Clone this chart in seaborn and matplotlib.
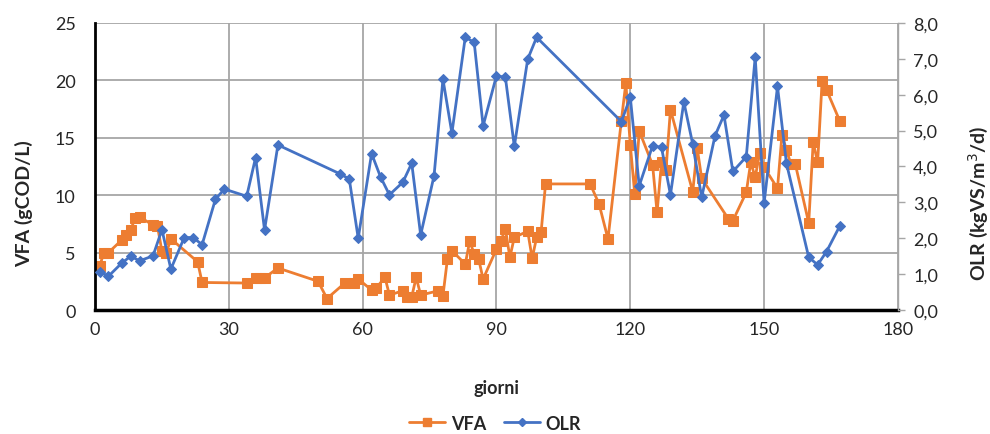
import matplotlib
matplotlib.use("Agg")
import matplotlib.pyplot as plt
import seaborn as sns
import pandas as pd
from matplotlib.ticker import FuncFormatter
from matplotlib.lines import Line2D

# ---- data ----
vfa_days = [1, 2, 3, 6, 7, 8, 9, 10, 13, 14, 15, 16, 17, 23, 24, 34, 36, 37, 38, 41,
            50, 52, 56, 58, 59, 62, 63, 65, 66, 69, 70, 71, 72, 73, 77, 78, 79, 80,
            83, 84, 85, 86, 87, 90, 91, 92, 93, 94, 97, 98, 99, 100, 101, 111, 113,
            115, 118, 119, 120, 121, 122, 125, 126, 127, 128, 129, 134, 135, 136,
            142, 143, 146, 147, 148, 149, 150, 153, 154, 155, 156, 157, 160, 161,
            162, 163, 164, 167]
vfa_vals = [3.8, 5.0, 5.0, 6.1, 6.5, 7.0, 8.0, 8.1, 7.4, 7.3, 5.1, 5.0, 6.2, 4.2, 2.4,
            2.35, 2.8, 2.8, 2.8, 3.66, 2.5, 1.0, 2.35, 2.35, 2.7, 1.74, 1.9, 2.85, 1.3,
            1.68, 1.16, 1.16, 2.85, 1.3, 1.68, 1.25, 4.44, 5.17, 4.0, 6.0, 4.88, 4.44,
            2.7, 5.31, 6.04, 7.06, 4.59, 6.33, 6.86, 4.5, 6.33, 6.77, 10.98, 10.98,
            9.23, 6.18, 16.5, 19.77, 14.37, 10.1, 15.6, 12.63, 8.5, 12.86, 12.2, 17.45,
            10.3, 14.1, 11.47, 7.93, 7.78, 10.25, 12.86, 11.56, 13.65, 12.43, 10.6,
            15.24, 13.96, 12.7, 12.7, 7.58, 14.6, 12.86, 19.92, 19.16, 16.43]

olr_days = [1, 3, 6, 8, 10, 13, 15, 17, 20, 22, 24, 27, 29, 34, 36, 38, 41, 55, 57, 59,
            62, 64, 66, 69, 71, 73, 76, 78, 80, 83, 85, 87, 90, 92, 94, 97, 99, 118,
            120, 122, 125, 127, 129, 132, 134, 136, 139, 141, 143, 146, 148, 150, 153,
            155, 160, 162, 164, 167]
olr_vals = [1.07, 0.94, 1.31, 1.5, 1.37, 1.51, 2.24, 1.14, 2.02, 2.02, 1.82, 3.09, 3.37,
            3.17, 4.25, 2.23, 4.6, 3.79, 3.65, 2.0, 4.36, 3.71, 3.21, 3.56, 4.09, 2.09,
            3.74, 6.43, 4.93, 7.6, 7.46, 5.13, 6.53, 6.48, 4.56, 6.99, 7.6, 5.25, 5.93,
            3.46, 4.58, 4.53, 3.21, 5.8, 4.62, 3.14, 4.86, 5.43, 3.86, 4.27, 7.05, 2.98,
            6.23, 4.09, 1.47, 1.26, 1.63, 2.35]

x_ticks = [0, 30, 60, 90, 120, 150, 180]
vfa_ticks = [0, 5, 10, 15, 20, 25]
olr_ticks = [0, 1, 2, 3, 4, 5, 6, 7, 8]

ORANGE = "#ED7D31"
BLUE = "#4472C4"
TXT = "#262626"

sns.set_theme(style="white")
plt.rcParams["font.family"] = ["Lato", "DejaVu Sans"]

fig = plt.figure(figsize=(9.9, 4.35), dpi=100)
ax = fig.add_axes([0.096, 0.285, 0.811, 0.66])
ax2 = ax.twinx()

df_v = pd.DataFrame({"giorni": vfa_days, "VFA": vfa_vals})
df_o = pd.DataFrame({"giorni": olr_days, "OLR": olr_vals})

sns.lineplot(data=df_v, x="giorni", y="VFA", ax=ax, color=ORANGE, marker="s",
             markersize=7, markeredgecolor=ORANGE, linewidth=2.0, estimator=None,
             sort=True, legend=False)
sns.lineplot(data=df_o, x="giorni", y="OLR", ax=ax2, color=BLUE, marker="D",
             markersize=5.5, markeredgecolor=BLUE, linewidth=2.0, estimator=None,
             sort=True, legend=False)

ax.set_xlim(0, 180)
ax.set_ylim(0, 25)
ax2.set_ylim(0, 8)
ax.set_xticks(x_ticks)
ax.set_yticks(vfa_ticks)
ax2.set_yticks(olr_ticks)
ax2.yaxis.set_major_formatter(FuncFormatter(lambda v, p: f"{v:.1f}".replace(".", ",")))

ax.grid(True, color="#A6A6A6", linewidth=1.3)
ax.set_axisbelow(True)
ax2.grid(False)

ax.spines["top"].set_visible(False)
ax2.spines["top"].set_visible(False)
ax.spines["left"].set_color("black")
ax.spines["left"].set_linewidth(2.0)
ax.spines["bottom"].set_color("black")
ax.spines["bottom"].set_linewidth(2.5)
ax.spines["right"].set_visible(False)
ax2.spines["left"].set_visible(False)
ax2.spines["bottom"].set_visible(False)
ax2.spines["right"].set_color("#A6A6A6")
ax2.spines["right"].set_linewidth(1.0)

ax.tick_params(axis="x", length=0, labelsize=13, colors=TXT, pad=8)
ax.tick_params(axis="y", length=0, labelsize=13, colors=TXT, pad=14)
ax2.tick_params(axis="y", length=5, width=1, color="#A6A6A6", direction="out",
                labelsize=13, labelcolor=TXT, pad=6)

ax.set_xlabel("giorni", fontsize=13, fontweight="bold", color=TXT, labelpad=30)
ax.set_ylabel("VFA (gCOD/L)", fontsize=14, fontweight="bold", color=TXT)
ax2.set_ylabel("OLR (kgVS/m$^3$/d)", fontsize=14, fontweight="bold", color=TXT)
ax.yaxis.set_label_coords(-0.077, 0.373)
ax2.yaxis.set_label_coords(1.085, 0.373)

handles = [Line2D([], [], color=ORANGE, marker="s", markersize=6, linewidth=2),
           Line2D([], [], color=BLUE, marker="D", markersize=4.5, linewidth=2)]
fig.legend(handles, ["VFA", "OLR"], loc="center", bbox_to_anchor=(0.5, 0.025),
           ncol=2, frameon=False, prop={"size": 13, "weight": "bold"},
           handlelength=2.0, columnspacing=1.0, handletextpad=0.3)

fig.savefig("out.png", dpi=100)
